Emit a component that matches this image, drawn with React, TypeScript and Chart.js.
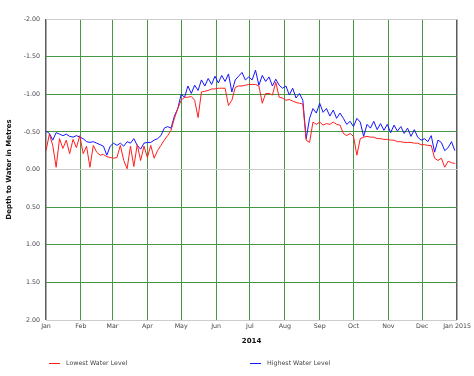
import React, { useEffect, useRef } from "react";
import { Chart, registerables } from "chart.js";

Chart.register(...registerables);

// Sampling step (days) between successive readings below, starting on 1 Jan 2014
const SAMPLE_STEP_DAYS = 3;

const LOWEST_WATER_LEVEL = [
  -0.25, -0.47, -0.32, -0.03, -0.41, -0.28, -0.39, -0.21, -0.4, -0.29, -0.45,
  -0.21, -0.31, -0.03, -0.32, -0.23, -0.19, -0.2, -0.17, -0.16, -0.15, -0.16,
  -0.32, -0.12, -0.01, -0.31, -0.04, -0.33, -0.12, -0.31, -0.16, -0.32, -0.15,
  -0.25, -0.32, -0.39, -0.45, -0.52, -0.68, -0.81, -0.92, -0.96, -0.96, -0.97,
  -0.92, -0.69, -1.03, -1.04, -1.05, -1.07, -1.07, -1.08, -1.08, -1.08, -0.85,
  -0.92, -1.09, -1.11, -1.11, -1.12, -1.13, -1.13, -1.13, -1.11, -0.88, -1.01,
  -1.01, -0.99, -1.16, -0.96, -0.95, -0.92, -0.93, -0.91, -0.89, -0.88, -0.87,
  -0.39, -0.36, -0.63, -0.6, -0.63, -0.59, -0.61, -0.6, -0.63, -0.6, -0.59,
  -0.48, -0.45, -0.48, -0.44, -0.19, -0.41, -0.43, -0.44, -0.43, -0.43, -0.41,
  -0.41, -0.4, -0.4, -0.39, -0.39, -0.37, -0.37, -0.36, -0.36, -0.36, -0.35,
  -0.35, -0.33, -0.33, -0.32, -0.32, -0.15, -0.12, -0.15, -0.03, -0.11, -0.09,
  -0.08,
];

const HIGHEST_WATER_LEVEL = [
  -0.51, -0.48, -0.39, -0.49, -0.47, -0.45, -0.47, -0.44, -0.43, -0.45, -0.43,
  -0.41, -0.37, -0.36, -0.37, -0.35, -0.33, -0.31, -0.19, -0.31, -0.35, -0.32,
  -0.35, -0.31, -0.37, -0.35, -0.41, -0.32, -0.27, -0.35, -0.36, -0.36, -0.39,
  -0.41, -0.45, -0.55, -0.57, -0.55, -0.71, -0.81, -1.0, -0.96, -1.11, -1.01,
  -1.12, -1.05, -1.19, -1.11, -1.21, -1.13, -1.24, -1.15, -1.25, -1.17, -1.27,
  -1.03, -1.19, -1.24, -1.29, -1.19, -1.23, -1.19, -1.32, -1.12, -1.25, -1.17,
  -1.23, -1.11, -1.2, -1.12, -1.08, -1.11, -0.99, -1.08, -0.95, -1.01, -0.92,
  -0.41, -0.68, -0.81, -0.75, -0.88, -0.76, -0.81, -0.71, -0.79, -0.68, -0.75,
  -0.68, -0.6, -0.64, -0.57, -0.68, -0.63, -0.44, -0.6, -0.55, -0.64, -0.53,
  -0.61, -0.52, -0.6, -0.49, -0.59, -0.51, -0.57, -0.48, -0.55, -0.44, -0.53,
  -0.43, -0.39, -0.41, -0.37, -0.45, -0.23, -0.39, -0.36, -0.25, -0.29, -0.37,
  -0.25,
];

// Day-of-year at which each month label sits
const MONTH_START_DAYS = [0, 31, 59, 90, 120, 151, 181, 212, 243, 273, 304, 334, 365];
const MONTH_LABELS = [
  "Jan", "Feb", "Mar", "Apr", "May", "Jun", "Jul", "Aug", "Sep", "Oct", "Nov", "Dec", "Jan 2015",
];
const Y_TICKS = [-2, -1.5, -1, -0.5, 0, 0.5, 1, 1.5, 2];

const X_TITLE = "2014";
const Y_TITLE = "Depth to Water in Metres";
const LOW_LABEL = "Lowest Water Level";
const HIGH_LABEL = "Highest Water Level";

const FONT = "'DejaVu Sans', Verdana, sans-serif";
const GREEN = "rgb(70,150,70)";
const LIGHT = "rgb(205,205,205)";
const DARK = "rgb(90,90,90)";

function toPoints(values: number[]) {
  return values.map((v, i) => ({ x: i * SAMPLE_STEP_DAYS, y: v }));
}

export default function App() {
  const canvasRef = useRef<HTMLCanvasElement | null>(null);

  useEffect(() => {
    const canvas = canvasRef.current;
    if (!canvas) return;
    const chart = new Chart(canvas, {
      type: "line",
      data: {
        datasets: [
          {
            label: LOW_LABEL,
            data: toPoints(LOWEST_WATER_LEVEL),
            borderColor: "rgb(255,30,30)",
            borderWidth: 1,
            pointRadius: 0,
            tension: 0,
          },
          {
            label: HIGH_LABEL,
            data: toPoints(HIGHEST_WATER_LEVEL),
            borderColor: "rgb(20,20,255)",
            borderWidth: 1,
            pointRadius: 0,
            tension: 0,
          },
        ],
      },
      options: {
        responsive: false,
        animation: false,
        devicePixelRatio: 1,
        layout: { padding: { left: 0, top: 19, right: 16, bottom: 26 } },
        plugins: { legend: { display: false }, tooltip: { enabled: false } },
        scales: {
          x: {
            type: "linear",
            min: 0,
            max: 365,
            afterBuildTicks: (scale: any) => {
              scale.ticks = MONTH_START_DAYS.map((d) => ({ value: d }));
            },
            afterFit: (scale: any) => {
              scale.height = 30;
            },
            ticks: {
              autoSkip: false,
              maxRotation: 0,
              padding: 3,
              color: "#444",
              font: { family: FONT, size: 6.3 },
              callback: (value: any) => {
                const i = MONTH_START_DAYS.indexOf(Number(value));
                return i >= 0 ? MONTH_LABELS[i] : "";
              },
            },
            grid: {
              drawTicks: false,
              color: (ctx: any) => {
                const v = ctx.tick ? ctx.tick.value : null;
                return v === 0 || v === 365 ? DARK : GREEN;
              },
              lineWidth: (ctx: any) => {
                const v = ctx.tick ? ctx.tick.value : null;
                return v === 0 || v === 365 ? 1.5 : 1;
              },
            },
            border: { display: false },
            title: {
              display: true,
              text: X_TITLE,
              color: "#111",
              font: { family: FONT, size: 7, weight: "bold" },
              padding: { top: 0, bottom: 5 },
            },
          },
          y: {
            type: "linear",
            reverse: true,
            min: -2,
            max: 2,
            afterBuildTicks: (scale: any) => {
              scale.ticks = Y_TICKS.map((v) => ({ value: v }));
            },
            afterFit: (scale: any) => {
              scale.width = 46;
            },
            ticks: {
              padding: 6,
              color: "#444",
              font: { family: FONT, size: 6.3 },
              callback: (value: any) => Number(value).toFixed(2),
            },
            grid: {
              drawTicks: false,
              color: (ctx: any) => {
                const v = ctx.tick ? ctx.tick.value : null;
                return v === 0 || v === 2 || v === -2 ? LIGHT : GREEN;
              },
              lineWidth: 1,
            },
            border: { display: false },
            title: {
              display: true,
              text: Y_TITLE,
              color: "#111",
              font: { family: FONT, size: 7, weight: "bold" },
              padding: { top: 5, bottom: 0 },
            },
          },
        },
      },
    } as any);
    return () => chart.destroy();
  }, []);

  const legendText: React.CSSProperties = {
    position: "absolute",
    fontFamily: FONT,
    fontSize: "6.3px",
    color: "#444",
    lineHeight: "8px",
    whiteSpace: "nowrap",
  };
  const swatch = (color: string, left: number): React.CSSProperties => ({
    position: "absolute",
    left,
    top: 363,
    width: 11,
    height: 1,
    background: color,
  });

  return (
    <div style={{ position: "fixed", left: 0, top: 0, width: 474, height: 376, background: "#fff" }}>
      <canvas ref={canvasRef} width={474} height={376} style={{ width: 474, height: 376, display: "block" }} />
      <div style={swatch("rgb(255,30,30)", 49)} />
      <div style={{ ...legendText, left: 66, top: 359 }}>{LOW_LABEL}</div>
      <div style={swatch("rgb(20,20,255)", 250)} />
      <div style={{ ...legendText, left: 267, top: 359 }}>{HIGH_LABEL}</div>
    </div>
  );
}
